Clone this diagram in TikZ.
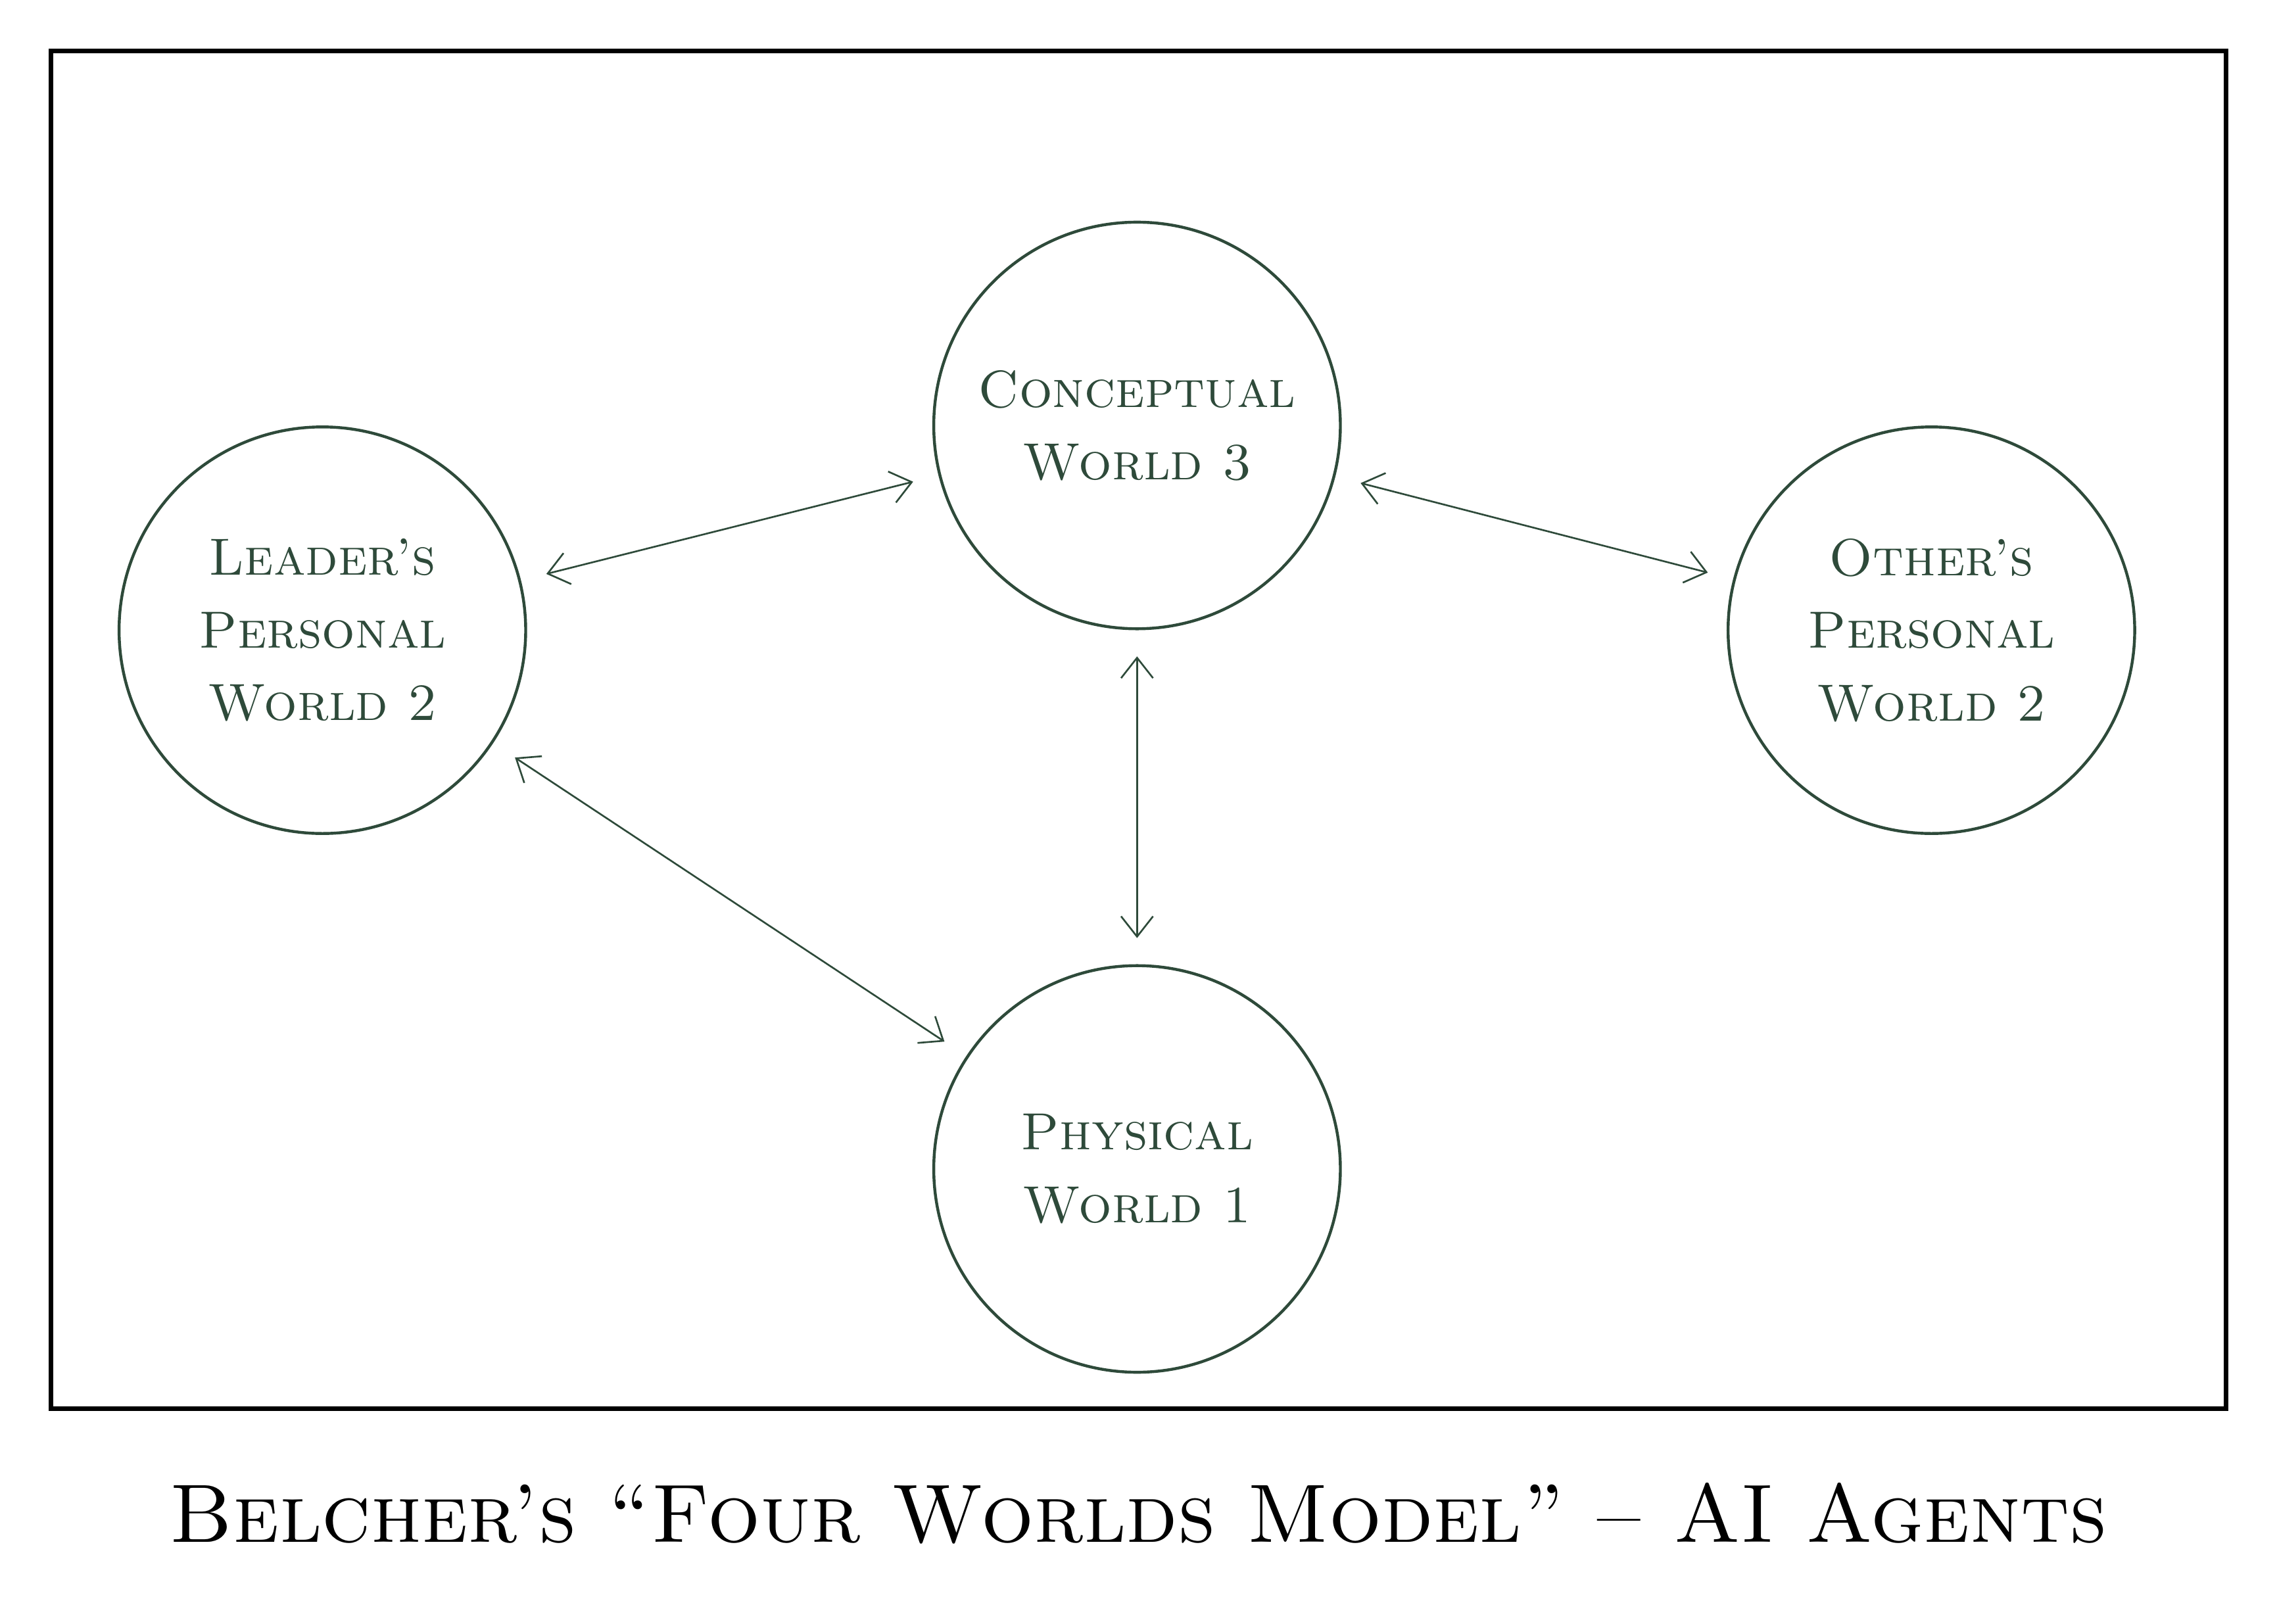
\documentclass[tikz,border=0pt]{standalone}
\usetikzlibrary{arrows.meta}
\definecolor{ink}{HTML}{2E4A3A}
\begin{document}
\begin{tikzpicture}[x=1pt,y=-1pt,
  world/.style={circle,draw=ink,line width=2pt,minimum size=280pt,inner sep=0pt,text=ink,align=center,font=\fontsize{36}{50}\selectfont\scshape},
  link/.style={draw=ink,line width=1.2pt,{Straight Barb[length=14pt,width=22pt]}-{Straight Barb[length=14pt,width=22pt]},shorten <=18pt,shorten >=18pt}]
\useasboundingbox (0,0) rectangle (1568,1118);
\fill[white] (0,0) rectangle (1568,1118);
\node[draw=black,line width=3pt,minimum width=1498pt,minimum height=935pt,inner sep=0pt] (frame) at (784,502.5) {};
\node[world] (C) at (783,293) {Conceptual\\World 3};
\node[world] (L) at (222,434) {Leader's\\Personal\\World 2};
\node[world] (O) at (1330,434) {Other's\\Personal\\World 2};
\node[world] (P) at (783,805) {Physical\\World 1};
\draw[link] (L) -- (C);
\draw[link] (C) -- (O);
\draw[link] (C) -- (P);
\draw[link] (L) -- (P);
\node[font=\fontsize{57}{66}\selectfont\scshape] (title) at (784,1042) {Belcher's ``Four Worlds Model'' -- AI Agents};
\end{tikzpicture}
\end{document}
